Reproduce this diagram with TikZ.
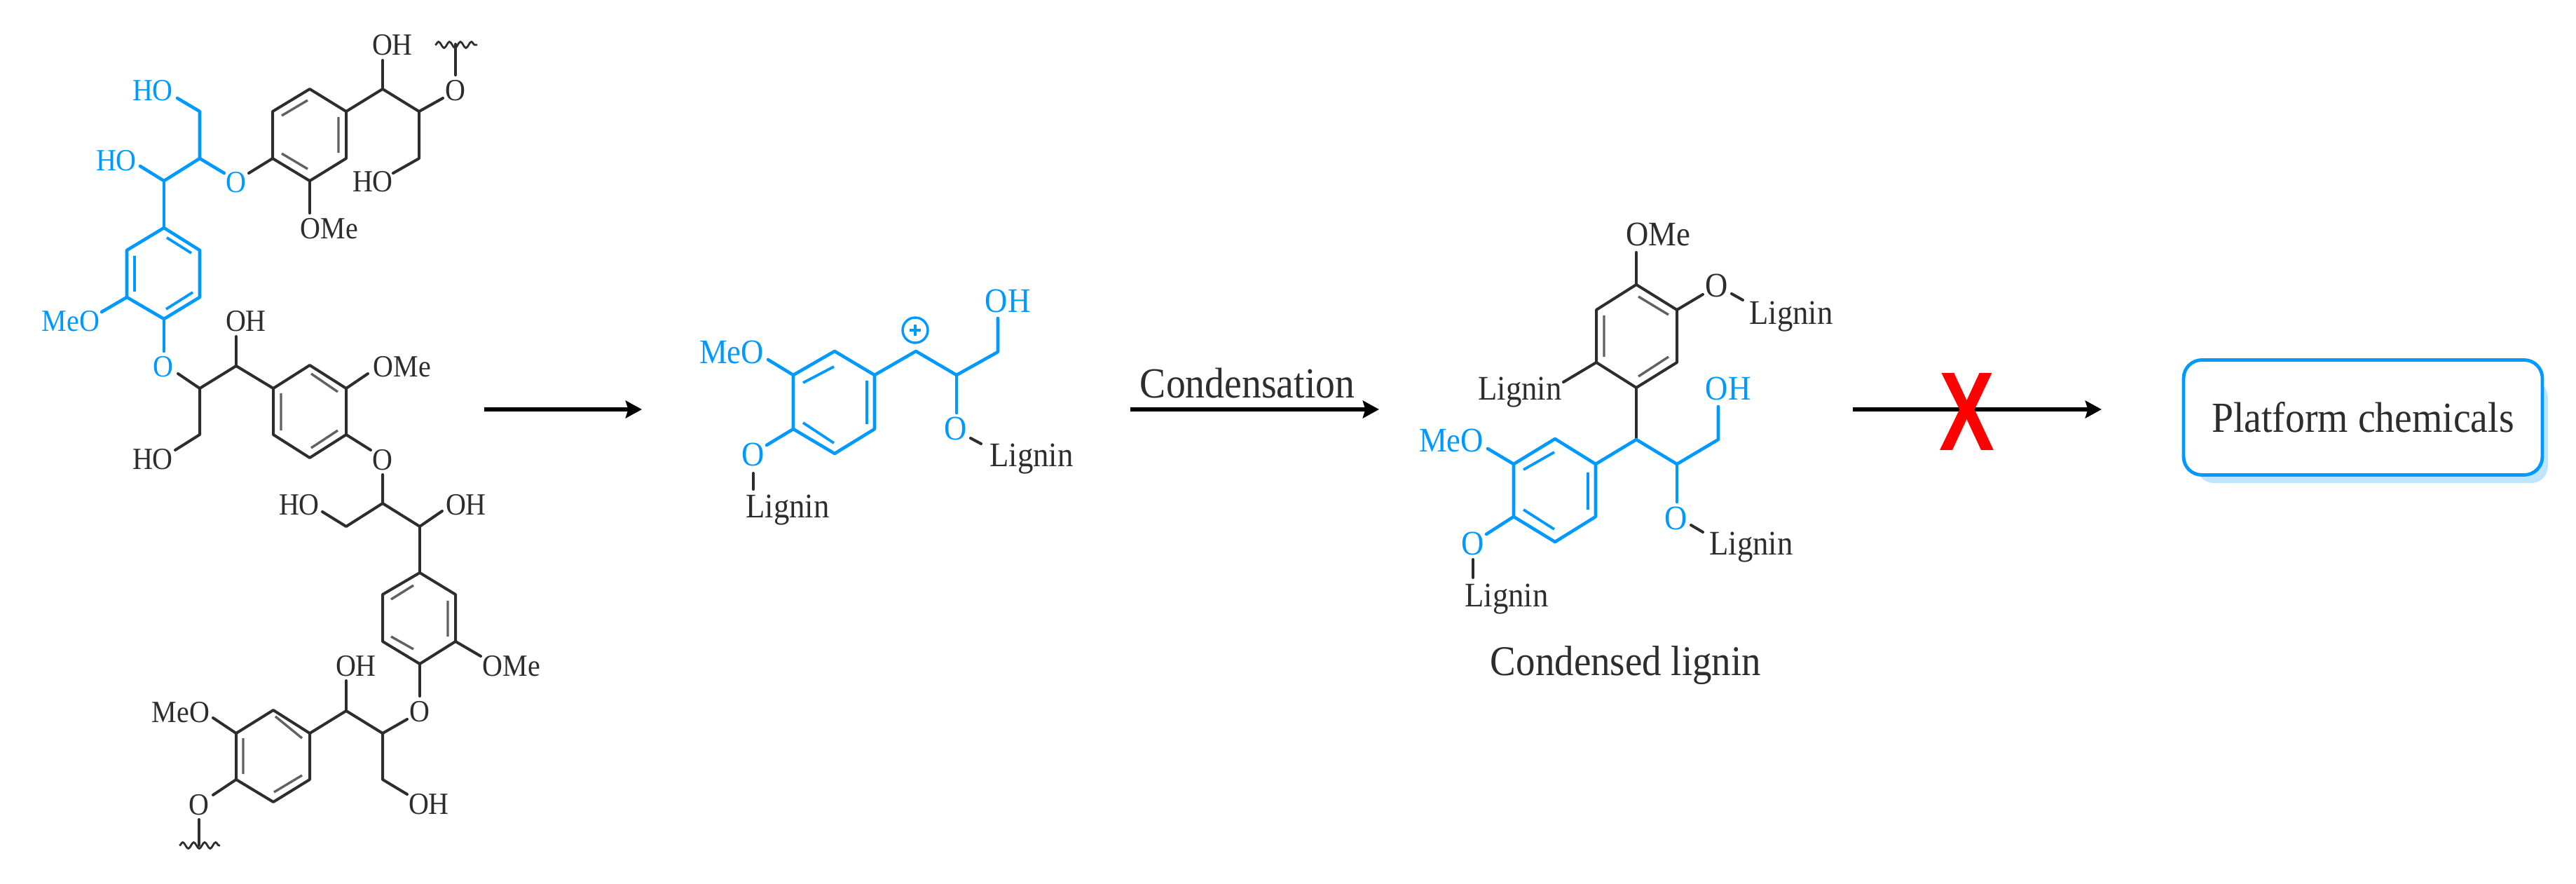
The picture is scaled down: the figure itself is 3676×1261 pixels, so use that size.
\documentclass[tikz,border=0pt]{standalone}
\usepackage{fontspec}
\setmainfont[FakeStretch=0.91]{Liberation Serif}
\newfontfamily\sansx{Liberation Sans}
\usetikzlibrary{arrows.meta,decorations.pathmorphing}
\definecolor{ligblue}{RGB}{0,153,255}
\definecolor{ligshade}{RGB}{190,228,255}
\definecolor{ink}{RGB}{45,45,45}
\tikzset{
  bk/.style={draw=ink,line width=1pt,line join=round,line cap=round},
  bl/.style={draw=ligblue,line width=1.15pt,line join=round,line cap=round},
  dbk/.style={draw=ink!75,line width=0.85pt},
  dbl/.style={draw=ligblue,line width=0.95pt},
  lab/.style={inner sep=0pt,outer sep=0pt,font=\fontsize{11}{11}\selectfont,text height=7.25pt,text depth=0pt,text=ink},
  labb/.style={lab,text=ligblue},
  labm/.style={inner sep=0pt,outer sep=0pt,font=\fontsize{12.3}{12}\selectfont,text height=8pt,text depth=0pt,text=ink},
  labmb/.style={labm,text=ligblue},
  lig/.style={inner sep=0pt,outer sep=0pt,font=\fontsize{12.3}{12}\selectfont,anchor=base,text=ink},
  big/.style={inner sep=0pt,outer sep=0pt,font=\fontsize{15.3}{15}\selectfont,anchor=base,text=ink},
  rxn/.style={draw=black,line width=1.6pt,-{Stealth[length=5.8pt,width=6.2pt,inset=0.9pt]}},
  wavy/.style={draw=ink,line width=0.7pt,decorate,decoration={snake,amplitude=1.1pt,segment length=3.9pt}},
}
\begin{document}
\begin{tikzpicture}[x=0.25pt,y=-0.25pt]
\useasboundingbox (0,0) rectangle (3676,1261);
\fill[white] (0,0) rectangle (3676,1261);
%% ---------- left: lignin fragment ----------
% top black unit
\draw[bk] (442,127)--(494,159)--(494,226)--(442,258)--(389,226)--(389,159)--cycle;
\draw[dbk] (402,165)--(439,143) (483,167)--(483,218) (402,219)--(439,241);
\draw[bk] (494,159)--(546,127)--(598,159)--(598,226)--(561,247);
\draw[bk] (546,127)--(546,86);
\draw[bk] (598,159)--(632,140);
\draw[bk] (650,107)--(650,63);
\draw[wavy] (621,64)--(681,64);
\draw[bk] (442,258)--(442,304);
\draw[bk] (389,226)--(355,247);
\node[lab] (oh1) at (560,64) {OH};
\node[lab] (o1) at (650,129) {O};
\node[lab] (ho1) at (532,259) {HO};
\node[lab] (ome1) at (470,326) {OMe};
% blue unit
\node[labb] (o2) at (337,260) {O};
\node[labb] (ho2) at (218,129) {HO};
\node[labb] (ho3) at (166,229) {HO};
\node[labb] (meo1) at (101,458) {MeO};
\node[labb] (o3) at (233,523) {O};
\draw[bl] (320,247)--(285,226)--(285,159)--(253,140);
\draw[bl] (285,226)--(234,258)--(200,237);
\draw[bl] (234,258)--(234,325);
\draw[bl] (234,325)--(285,357)--(285,424)--(234,455)--(181,424)--(181,357)--cycle;
\draw[dbl] (238,339)--(273,361) (192,365)--(192,416) (237,441)--(275,417);
\draw[bl] (181,424)--(145,445);
\draw[bl] (234,455)--(234,501);
% second black unit
\draw[bk] (254,533)--(285,554)--(337,522)--(390,554);
\draw[bk] (337,522)--(337,480);
\draw[bk] (285,554)--(285,620)--(250,642);
\draw[bk] (390,554)--(442,521)--(494,554)--(494,620)--(442,653)--(390,620)--cycle;
\draw[dbk] (444,533)--(482,559) (401,561)--(401,614) (444,639)--(482,614);
\draw[bk] (494,554)--(525,533);
\draw[bk] (494,620)--(529,642);
\node[lab] (oh2) at (351,458) {OH};
\node[lab] (ome2) at (574,523) {OMe};
\node[lab] (ho4) at (218,655) {HO};
\node[lab] (o4) at (546,656) {O};
% third black unit
\draw[bk] (546,677)--(546,718)--(494,751)--(460,730);
\draw[bk] (546,718)--(599,751)--(631,729);
\draw[bk] (599,751)--(599,817);
\draw[bk] (599,817)--(650,848)--(650,915)--(599,947)--(546,915)--(546,848)--cycle;
\draw[dbk] (558,855)--(590,835) (639,857)--(639,908) (558,908)--(590,926);
\draw[bk] (650,915)--(686,936);
\draw[bk] (599,947)--(599,993);
\node[lab] (ho5) at (427,720) {HO};
\node[lab] (oh3) at (665,720) {OH};
\node[lab] (ome3) at (730,950) {OMe};
\node[lab] (oh4) at (508,950) {OH};
\node[lab] (o5) at (599,1015) {O};
% fourth black unit
\draw[bk] (581,1026)--(546,1046)--(494,1014)--(442,1046);
\draw[bk] (494,1014)--(494,971);
\draw[bk] (546,1046)--(546,1112)--(581,1133);
\draw[bk] (442,1046)--(442,1112)--(390,1144)--(337,1112)--(337,1046)--(390,1013)--cycle;
\draw[dbk] (393,1022)--(431,1053) (347,1053)--(347,1104) (391,1130)--(431,1106);
\draw[bk] (337,1046)--(304,1024);
\draw[bk] (337,1112)--(304,1134);
\draw[bk] (284,1169)--(284,1206);
\draw[wavy] (256,1206)--(314,1206);
\node[lab] (meo2) at (258,1016) {MeO};
\node[lab] (o6) at (284,1148) {O};
\node[lab] (oh5) at (612,1147) {OH};
%% ---------- first arrow ----------
\coordinate (a1s) at (691,584);
\coordinate (a1e) at (916,584);
\draw[rxn] (a1s)--(a1e);
%% ---------- middle: cation ----------
\draw[bl] (1191,501)--(1248,535)--(1248,612)--(1191,647)--(1132,612)--(1132,535)--cycle;
\draw[dbl] (1146,546)--(1190,523) (1237,543)--(1237,605) (1146,603)--(1190,632);
\draw[bl] (1132,535)--(1096,513);
\draw[bl] (1248,535)--(1307,501)--(1365,535)--(1424,502)--(1424,454);
\draw[bl] (1365,535)--(1365,589);
\draw[bl] (1132,612)--(1094,635);
\node[labmb] (meo3) at (1044,503) {MeO};
\node[labmb] (oh6) at (1438,430) {OH};
\node[labmb] (o7) at (1364,612) {O};
\node[labmb] (o8) at (1075,649) {O};
\node[circle,draw=ligblue,line width=0.85pt,minimum size=9pt,inner sep=0pt] (plus) at (1306,471) {};
\draw[ligblue,line width=0.8pt] (plus.center) +(-8,0) -- +(8,0) (plus.center) +(0,-8) -- +(0,8);
\draw[bk] (1385,625)--(1400,633);
\draw[bk] (1075,675)--(1075,698);
\node[lig] (lg1) at (1472,666) {Lignin};
\node[lig] (lg2) at (1124,739) {Lignin};
%% ---------- condensation arrow ----------
\coordinate (a2s) at (1613,584);
\coordinate (a2e) at (1968,584);
\draw[rxn] (a2s)--(a2e);
\node[big] (cond) at (1780,568) {Condensation};
%% ---------- right: condensed lignin ----------
\draw[bk] (2335,406)--(2393,442)--(2393,517)--(2335,553)--(2278,517)--(2278,442)--cycle;
\draw[dbk] (2338,423)--(2381,449) (2289,450)--(2289,509) (2338,537)--(2381,509);
\draw[bk] (2335,406)--(2335,360);
\draw[bk] (2393,442)--(2430,420);
\draw[bk] (2471,419)--(2487,428);
\draw[bk] (2278,517)--(2231,545);
\draw[bk] (2335,553)--(2335,627);
\node[labm] (ome4) at (2366,335) {OMe};
\node[labm] (o9) at (2450,408) {O};
\node[lig] (lg3) at (2556,463) {Lignin};
\node[lig] (lg4) at (2169,571) {Lignin};
\draw[bl] (2219,626)--(2277,662)--(2277,737)--(2219,773)--(2160,737)--(2160,662)--cycle;
\draw[dbl] (2174,670)--(2218,645) (2266,674)--(2266,727) (2174,727)--(2218,755);
\draw[bl] (2277,662)--(2335,627)--(2393,662)--(2452,627)--(2452,580);
\draw[bl] (2393,662)--(2393,716);
\draw[bl] (2160,662)--(2123,640);
\draw[bl] (2160,737)--(2121,762);
\node[labmb] (oh7) at (2466,555) {OH};
\node[labmb] (meo4) at (2071,629) {MeO};
\node[labmb] (o10) at (2392,740) {O};
\node[labmb] (o11) at (2102,776) {O};
\draw[bk] (2413,749)--(2430,759);
\draw[bk] (2102,798)--(2102,824);
\node[lig] (lg5) at (2499,791) {Lignin};
\node[lig] (lg6) at (2150,865) {Lignin};
\node[big,font=\fontsize{15.1}{15}\selectfont] (cap) at (2320,963) {Condensed lignin};
%% ---------- blocked arrow ----------
\coordinate (a3s) at (2644,584);
\coordinate (a3e) at (2999,584);
\draw[rxn] (a3s)--(a3e);
\node[inner sep=0pt,text=red] (cross) at (2807,587) {\scalebox{0.74}[1]{\sansx\bfseries\fontsize{40}{40}\selectfont X}};
%% ---------- box ----------
\fill[ligshade,rounded corners=6pt] (3135,543) rectangle (3636,689);
\node[draw=ligblue,fill=white,line width=1.2pt,rounded corners=6.5pt,minimum width=128pt,minimum height=41pt,inner sep=0pt,font=\fontsize{15.3}{15}\selectfont,text=ink] (box) at (3372,595.5) {\raisebox{-1pt}{Platform chemicals}};
\end{tikzpicture}
\end{document}
